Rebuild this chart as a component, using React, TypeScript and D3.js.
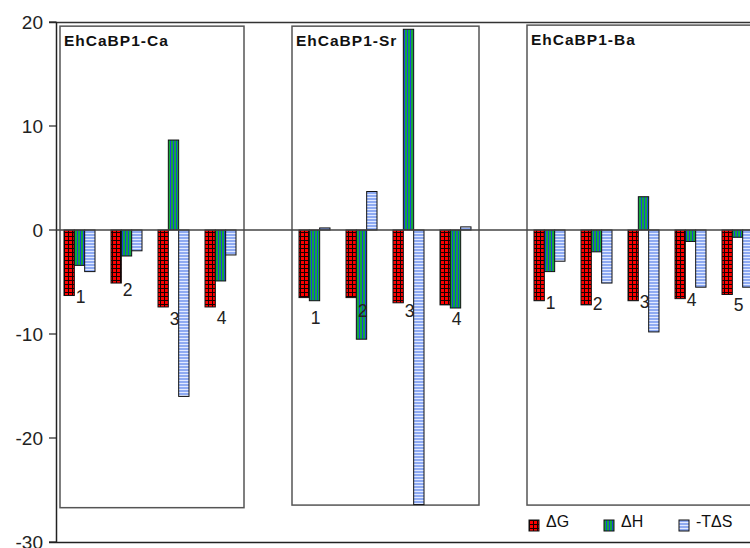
import React from 'react'
import * as d3 from 'd3'

// categories: three protein groups, an empty slot between groups
const categories = ['Ca1', 'Ca2', 'Ca3', 'Ca4', 'gap1', 'Sr1', 'Sr2', 'Sr3', 'Sr4', 'gap2', 'Ba1', 'Ba2', 'Ba3', 'Ba4', 'Ba5']
const catLabels = ['1', '2', '3', '4', '', '1', '2', '3', '4', '', '1', '2', '3', '4', '5']
const series = ['dG', 'dH', 'mTdS']
const seriesNames = ['ΔG', 'ΔH', '-TΔS']

const dG = [-6.3, -5.1, -7.4, -7.4, null, -6.5, -6.5, -7.0, -7.2, null, -6.8, -7.2, -6.8, -6.6, -6.2]
const dH = [-3.4, -2.5, 8.65, -4.9, null, -6.8, -10.5, 19.3, -7.5, null, -4.0, -2.1, 3.2, -1.1, -0.7]
const mTdS = [-4.0, -2.0, -16.0, -2.4, null, 0.2, 3.7, -26.4, 0.3, null, -3.0, -5.1, -9.8, -5.5, -5.5]
// value at which each site number sits
const labelAt = [-6.4, -5.7, -8.5, -8.4, null, -8.4, -7.8, -7.8, -8.5, null, -7.0, -7.1, -6.9, -6.7, -7.2]

const groupNames = ['EhCaBP1-Ca', 'EhCaBP1-Sr', 'EhCaBP1-Ba']
const groupFirst = ['Ca1', 'Sr1', 'Ba1']
const groupLast = ['Ca4', 'Sr4', 'Ba5']
const boxTop = [19.6, 19.6, 19.7]
const boxBottom = [-26.7, -26.45, -26.45]

const yTicks = [20, 10, 0, -10, -20, -30]

const W = 750
const H = 548
const FONT = 'Liberation Sans, Arial, sans-serif'

const App = () => {
  const x = d3.scaleBand().domain(categories).range([56, 761])
  const xSub = d3.scaleBand().domain(series).range([8, 39])
  const y = d3.scaleLinear().domain([-30, 20]).range([542, 22])

  const valuesBySeries: Record<string, (number | null)[]> = { dG, dH, mTdS }
  const fills: Record<string, string> = { dG: 'url(#pG)', dH: 'url(#pH)', mTdS: 'url(#pS)' }

  const bars: { key: string; x: number; y: number; w: number; h: number; fill: string }[] = []
  categories.forEach((c, i) => {
    series.forEach(s => {
      const v = valuesBySeries[s][i]
      if (v == null) return
      const y0 = y(0)
      const y1 = y(v)
      bars.push({
        key: c + s,
        x: (x(c) as number) + (xSub(s) as number),
        y: Math.min(y0, y1),
        w: xSub.bandwidth(),
        h: Math.max(1.5, Math.abs(y1 - y0)),
        fill: fills[s],
      })
    })
  })

  const plotLeft = 56.5
  const plotRight = W

  return (
    <svg width={W} height={H} style={{ position: 'absolute', left: 0, top: 0, background: '#fff' }} fontFamily={FONT}>
      <defs>
        <pattern id="pG" patternUnits="userSpaceOnUse" width={4} height={4}>
          <rect width={4} height={4} fill="#1a0000" />
          <rect x={1} y={1} width={3} height={3} fill="#ff0000" />
        </pattern>
        <pattern id="pH" patternUnits="userSpaceOnUse" width={3} height={4}>
          <rect width={3} height={4} fill="#12a83c" />
          <rect x={2} width={1} height={4} fill="#1f3fd8" />
        </pattern>
        <pattern id="pS" patternUnits="userSpaceOnUse" width={4} height={3}>
          <rect width={4} height={3} fill="#8eaaf2" />
          <rect y={2} width={4} height={1} fill="#e2eaff" />
        </pattern>
      </defs>

      {/* group boxes */}
      {groupNames.map((g, i) => {
        const x0 = x(groupFirst[i]) as number
        const x1 = (x(groupLast[i]) as number) + x.bandwidth()
        const left = i === 0 ? x0 + 4 : x0 + 1
        return (
          <g key={g}>
            <rect x={left} y={y(boxTop[i])} width={x1 - left} height={y(boxBottom[i]) - y(boxTop[i])}
              fill="none" stroke="#555" strokeWidth={1.5} />
            <text x={left + 4} y={y(boxTop[i]) + 20} fontSize={15.5} fontWeight="bold" letterSpacing={1} fill="#111">{g}</text>
          </g>
        )
      })}

      {/* axes frame */}
      <line x1={49} x2={plotRight} y1={22.5} y2={22.5} stroke="#333" strokeWidth={1.5} />
      <line x1={plotLeft} x2={plotLeft} y1={22} y2={543} stroke="#222" strokeWidth={1.5} />
      <line x1={49} x2={plotRight} y1={542.5} y2={542.5} stroke="#222" strokeWidth={1.5} />
      {yTicks.map(t => (
        <g key={t}>
          <line x1={49} x2={plotLeft} y1={y(t)} y2={y(t)} stroke="#222" strokeWidth={1.2} />
          <text x={43} y={y(t)} dy="0.36em" textAnchor="end" fontSize={19} fill="#222">{t}</text>
        </g>
      ))}

      {/* bars */}
      {bars.map(b => (
        <rect key={b.key} x={b.x} y={b.y} width={b.w} height={b.h} fill={b.fill} stroke="#111" strokeWidth={1} />
      ))}

      {/* zero line */}
      <line x1={plotLeft} x2={plotRight} y1={y(0)} y2={y(0)} stroke="#444" strokeWidth={1.3} />

      {/* site numbers */}
      {categories.map((c, i) => labelAt[i] == null ? null : (
        <text key={'l' + c} x={(x(c) as number) + x.bandwidth() / 2 + 1} y={y(labelAt[i] as number)} dy="0.36em"
          textAnchor="middle" fontSize={17.5} fill="#222">{catLabels[i]}</text>
      ))}

      {/* legend */}
      {series.map((s, i) => (
        <g key={'leg' + s} transform={`translate(${529 + i * 75},520)`}>
          <rect width={10} height={11} fill={fills[s]} stroke="#111" strokeWidth={1} />
          <text x={17} y={7} fontSize={16} fill="#111">{seriesNames[i]}</text>
        </g>
      ))}
    </svg>
  )
}

export default App
